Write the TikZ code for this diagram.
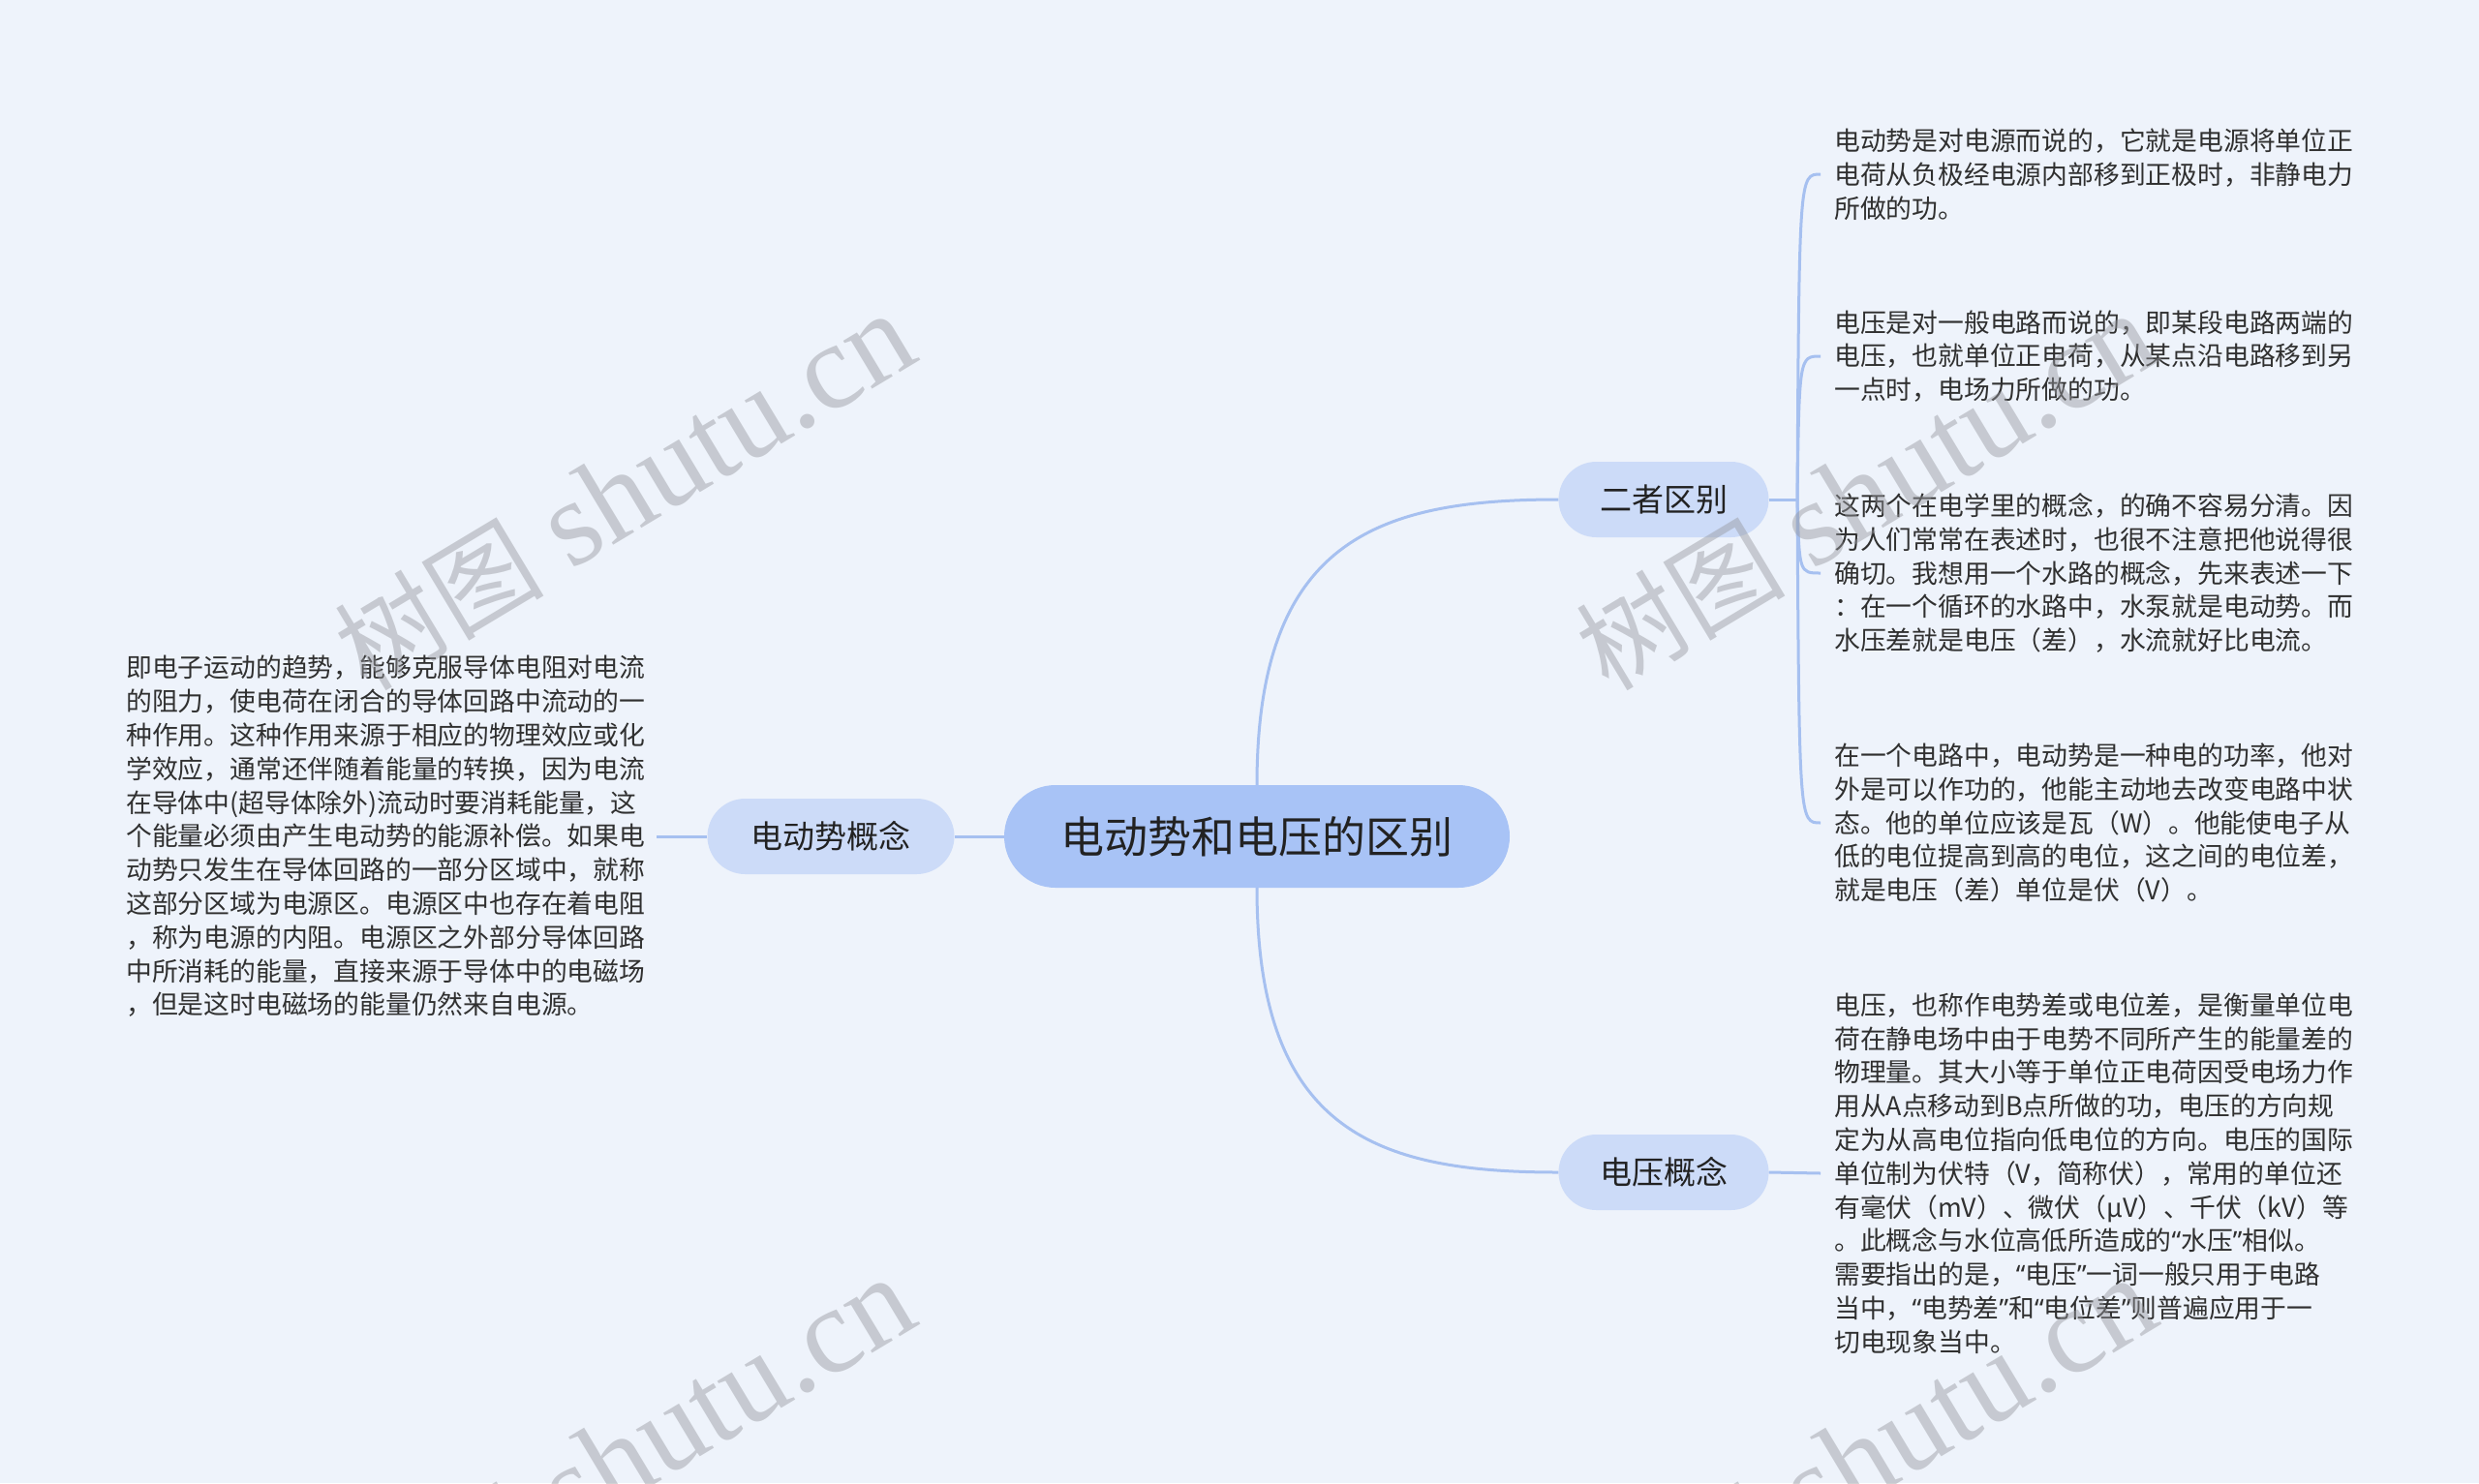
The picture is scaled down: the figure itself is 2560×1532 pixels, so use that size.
\documentclass[tikz,border=0pt]{standalone}
\usepackage{fontspec}
\setmainfont{Noto Sans CJK SC}
\newfontfamily\wmcjk{Noto Sans CJK SC}
\newfontfamily\wmlat{Liberation Serif}
\newfontfamily\qfont{Noto Sans}
\newcommand\oq{{\qfont “}}
\newcommand\cq{{\qfont ”}}
\definecolor{bgc}{RGB}{238,243,251}
\definecolor{rootc}{RGB}{168,195,246}
\definecolor{brc}{RGB}{204,219,248}
\definecolor{linec}{RGB}{166,192,240}
\definecolor{nodetxt}{RGB}{34,34,34}
\definecolor{bodytxt}{RGB}{48,48,48}
\definecolor{wmc}{RGB}{150,152,158}
\begin{document}
\begin{tikzpicture}[x=1pt,y=-1pt,
  rootbox/.style={fill=rootc, rounded corners=53pt, minimum width=522pt, minimum height=106pt, inner sep=0pt, text=nodetxt, font=\fontsize{45}{54}\selectfont},
  branchbox/.style={fill=brc, rounded corners=39pt, minimum height=78pt, inner sep=0pt, text=nodetxt, font=\fontsize{33}{40}\selectfont},
  desc/.style={anchor=west, inner sep=0pt, align=left, text=bodytxt, font=\fontsize{26.8}{34.8}\selectfont},
  link/.style={draw=linec, line width=3pt},
  wmark/.style={text=wmc, opacity=0.45, inner sep=0pt, rotate=31, font=\fontsize{126}{126}\selectfont}]
\useasboundingbox[fill=bgc] (0,0) rectangle (2560,1532);

% nodes
\node[rootbox] (root) at (1298,864) {电动势和电压的区别};
\node[branchbox, minimum width=255pt] (emf) at (858,864) {电动势概念};
\node[branchbox, minimum width=217pt] (diff) at (1718,516) {二者区别};
\node[branchbox, minimum width=217pt] (volt) at (1718,1211) {电压概念};

\node[desc] (t1) at (1894,180) {电动势是对电源而说的，它就是电源将单位正\\
电荷从负极经电源内部移到正极时，非静电力\\
所做的功。};
\node[desc] (t2) at (1894,368) {电压是对一般电路而说的，即某段电路两端的\\
电压，也就单位正电荷，从某点沿电路移到另\\
一点时，电场力所做的功。};
\node[desc] (t3) at (1894,592) {这两个在电学里的概念，的确不容易分清。因\\
为人们常常在表述时，也很不注意把他说得很\\
确切。我想用一个水路的概念，先来表述一下\\
：在一个循环的水路中，水泵就是电动势。而\\
水压差就是电压（差），水流就好比电流。};
\node[desc] (t4) at (1894,850) {在一个电路中，电动势是一种电的功率，他对\\
外是可以作功的，他能主动地去改变电路中状\\
态。他的单位应该是瓦（W）。他能使电子从\\
低的电位提高到高的电位，这之间的电位差，\\
就是电压（差）单位是伏（V）。};
\node[desc] (t5) at (1894,1212) {电压，也称作电势差或电位差，是衡量单位电\\
荷在静电场中由于电势不同所产生的能量差的\\
物理量。其大小等于单位正电荷因受电场力作\\
用从A点移动到B点所做的功，电压的方向规\\
定为从高电位指向低电位的方向。电压的国际\\
单位制为伏特（V，简称伏），常用的单位还\\
有毫伏（mV）、微伏（μV）、千伏（kV）等\\
。此概念与水位高低所造成的\oq 水压\cq 相似。\\
需要指出的是，\oq 电压\cq 一词一般只用于电路\\
当中，\oq 电势差\cq 和\oq 电位差\cq 则普遍应用于一\\
切电现象当中。};
\node[desc] (tl) at (130,864) {即电子运动的趋势，能够克服导体电阻对电流\\
的阻力，使电荷在闭合的导体回路中流动的一\\
种作用。这种作用来源于相应的物理效应或化\\
学效应，通常还伴随着能量的转换，因为电流\\
在导体中(超导体除外)流动时要消耗能量，这\\
个能量必须由产生电动势的能源补偿。如果电\\
动势只发生在导体回路的一部分区域中，就称\\
这部分区域为电源区。电源区中也存在着电阻\\
，称为电源的内阻。电源区之外部分导体回路\\
中所消耗的能量，直接来源于导体中的电磁场\\
，但是这时电磁场的能量仍然来自电源。};

% connectors
\draw[link] (root.west) -- (emf.east);
\draw[link] (emf.west) -- ([xshift=12pt]tl.east);
\draw[link] (root.north) .. controls (1298,560) and (1420,516) .. (diff.west);
\draw[link] (root.south) .. controls (1298,1168) and (1420,1211) .. (volt.west);
\coordinate (dj) at (1856,516);
\draw[link] (diff.east) -- (dj);
\draw[link] (dj) .. controls (1858,180) .. ([xshift=-14pt]t1.west);
\draw[link] (dj) .. controls (1858,368) .. ([xshift=-14pt]t2.west);
\draw[link] (dj) .. controls (1858,592) .. ([xshift=-14pt]t3.west);
\draw[link] (dj) .. controls (1858,850) .. ([xshift=-14pt]t4.west);
\draw[link] (volt.east) -- ([xshift=-14pt]t5.west);

% watermarks
\node[wmark] (wm1) at (645,508) {{\wmcjk\fontsize{108}{108}\selectfont 树图} {\wmlat shutu.cn}};
\node[wmark] (wm2) at (1927,508) {{\wmcjk\fontsize{108}{108}\selectfont 树图} {\wmlat shutu.cn}};
\node[wmark] (wm3) at (645,1504) {{\wmcjk\fontsize{108}{108}\selectfont 树图} {\wmlat shutu.cn}};
\node[wmark] (wm4) at (1927,1504) {{\wmcjk\fontsize{108}{108}\selectfont 树图} {\wmlat shutu.cn}};
\end{tikzpicture}
\end{document}
